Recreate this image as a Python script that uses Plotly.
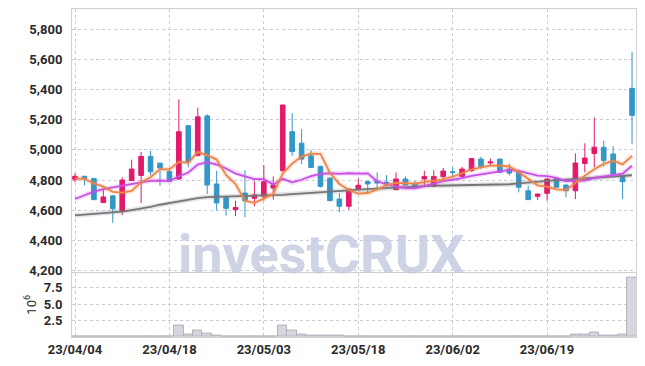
import plotly.graph_objects as go
from plotly.subplots import make_subplots

dates = ["23/04/04","23/04/05","23/04/06","23/04/07","23/04/10","23/04/11","23/04/12","23/04/13","23/04/14","23/04/17",
         "23/04/18","23/04/19","23/04/20","23/04/21","23/04/24","23/04/25","23/04/26","23/04/27","23/04/28","23/05/02",
         "23/05/03","23/05/04","23/05/08","23/05/09","23/05/10","23/05/11","23/05/12","23/05/15","23/05/16","23/05/17",
         "23/05/18","23/05/19","23/05/22","23/05/23","23/05/24","23/05/25","23/05/26","23/05/30","23/05/31","23/06/01",
         "23/06/02","23/06/05","23/06/07","23/06/08","23/06/09","23/06/12","23/06/13","23/06/14","23/06/15","23/06/16",
         "23/06/19","23/06/20","23/06/21","23/06/22","23/06/23","23/06/26","23/06/27","23/06/28","23/06/29","23/06/30"]

opens = [4805,4825,4810,4650,4695,4593,4797,4830,4957,4912,
         4857,4807,5161,4962,5226,4774,4690,4603,4714,4679,
         4692,4747,4862,5121,5045,4961,4891,4813,4674,4626,
         4736,4791,4791,4786,4736,4807,4774,4807,4758,4822,
         4855,4824,4862,4939,4914,4939,4873,4851,4729,4692,
         4712,4811,4767,4729,4910,4977,5018,4973,4822,5409]
highs = [4845,4828,4815,4735,4700,4818,4935,4987,4994,4915,
         4880,5336,5165,5281,5237,4862,4695,4663,4866,4791,
         4899,4824,5300,5244,5138,5000,4895,4815,4714,4742,
         4811,4793,4851,4833,4851,4824,4796,4862,4866,4880,
         4884,4888,4947,4955,4943,4942,4910,4855,4762,4710,
         4810,4815,4770,4977,5044,5216,5061,5024,4825,5652]
lows = [4785,4765,4665,4648,4515,4568,4795,4648,4830,4762,
        4788,4800,4884,4960,4707,4597,4564,4560,4553,4626,
        4663,4670,4855,4961,4906,4880,4750,4660,4586,4603,
        4733,4714,4740,4747,4733,4765,4750,4752,4755,4785,
        4824,4820,4855,4873,4895,4848,4829,4718,4668,4668,
        4663,4750,4685,4674,4851,4884,4891,4835,4674,5040]
closes = [4825,4810,4670,4688,4610,4800,4873,4957,4855,4880,
          4791,5121,4922,5220,4767,4648,4612,4618,4663,4701,
          4789,4767,5298,4989,4939,4884,4758,4663,4626,4740,
          4765,4774,4780,4778,4807,4767,4752,4824,4824,4860,
          4851,4873,4943,4891,4920,4851,4846,4752,4670,4707,
          4807,4752,4729,4913,4946,5018,4929,4840,4789,5230]
volumes_m = [0.02,0.02,0.02,0.02,0.1,0.1,0.1,0.1,0.1,0.03,
             0.03,1.7,0.3,1.0,0.45,0.25,0.1,0.03,0.1,0.03,
             0.1,0.03,1.8,1.05,0.35,0.15,0.15,0.15,0.15,0.1,
             0.03,0.03,0.03,0.03,0.03,0.03,0.03,0.03,0.03,0.03,
             0.03,0.03,0.12,0.03,0.03,0.03,0.03,0.12,0.03,0.03,
             0.03,0.03,0.03,0.3,0.3,0.7,0.25,0.25,0.35,9.0]
ma5 = [4811,4807,4778,4756,4721,4716,4728,4786,4819,4873,
       4871,4921,4914,4987,4964,4936,4834,4773,4662,4648,
       4677,4708,4844,4909,4956,4975,4974,4847,4774,4734,
       4710,4714,4737,4767,4781,4781,4777,4786,4795,4805,
       4822,4846,4870,4884,4896,4896,4890,4852,4808,4765,
       4756,4738,4733,4782,4829,4872,4907,4929,4904,4961]
ma10 = [4674,4701,4723,4740,4752,4762,4774,4785,4795,4797,
        4793,4825,4850,4903,4919,4903,4877,4843,4824,4806,
        4806,4771,4808,4785,4802,4826,4841,4845,4841,4845,
        4843,4844,4792,4771,4758,4746,4745,4761,4781,4793,
        4802,4812,4828,4839,4851,4859,4868,4861,4846,4830,
        4826,4814,4793,4795,4797,4814,4822,4831,4843,4895]
ma_long = [4565,4570,4574,4579,4584,4590,4600,4610,4622,4636,
           4648,4658,4670,4680,4686,4688,4689,4690,4691,4692,
           4694,4697,4702,4707,4712,4716,4720,4724,4728,4732,
           4736,4740,4744,4748,4752,4755,4758,4760,4762,4763,
           4764,4764,4765,4765,4766,4768,4772,4778,4784,4790,
           4795,4799,4802,4806,4810,4814,4818,4822,4826,4832]

price_ticks = [4200,4400,4600,4800,5000,5200,5400,5600,5800]
price_ticktext = ["4,200","4,400","4,600","4,800","5,000","5,200","5,400","5,600","5,800"]
vol_ticks = [2.5,5.0,7.5]
vol_ticktext = ["2.5","5.0","7.5"]
date_tickvals = ["23/04/04","23/04/18","23/05/03","23/05/18","23/06/02","23/06/19"]

UP = "#e3196b"
DOWN = "#3397c8"
GRID = "#c9cbdc"
FONT = "Roboto, sans-serif"

fig = make_subplots(rows=2, cols=1, shared_xaxes=True, row_heights=[0.803, 0.197],
                    vertical_spacing=0.003)

fig.add_trace(go.Candlestick(x=dates, open=opens, high=highs, low=lows, close=closes,
                             increasing=dict(line=dict(color=UP, width=1), fillcolor=UP),
                             decreasing=dict(line=dict(color=DOWN, width=1), fillcolor=DOWN),
                             whiskerwidth=0, showlegend=False, hoverinfo="skip"), row=1, col=1)

for vals, col in [(ma_long, "#767676"), (ma10, "#c94fe6"), (ma5, "#ee8448")]:
    fig.add_trace(go.Scatter(x=dates, y=vals, mode="lines", line=dict(color=col, width=5),
                             opacity=0.18, showlegend=False, hoverinfo="skip"), row=1, col=1)
    fig.add_trace(go.Scatter(x=dates, y=vals, mode="lines", line=dict(color=col, width=1.8),
                             showlegend=False, hoverinfo="skip"), row=1, col=1)

fig.add_trace(go.Bar(x=dates, y=volumes_m, marker=dict(color="#d6d6de", line=dict(color="#b2b2bc", width=1)),
                     showlegend=False, hoverinfo="skip"), row=2, col=1)

fig.update_layout(width=645, height=366, margin=dict(l=72, r=9, t=9, b=29),
                  paper_bgcolor="white", plot_bgcolor="white", bargap=0,
                  font=dict(family=FONT, size=13, color="#2a2a2a", weight="bold"))

xcommon = dict(type="category", range=[-0.32, 59.42], showgrid=True, gridcolor=GRID, griddash="dot",
               gridwidth=1, showline=True, linecolor="#d0d0d0", mirror=True, ticks="",
               tickvals=date_tickvals, ticktext=date_tickvals, rangeslider=dict(visible=False))
fig.update_xaxes(**xcommon, row=1, col=1)
fig.update_xaxes(**xcommon, row=2, col=1)
fig.update_xaxes(showticklabels=False, row=1, col=1)
fig.update_xaxes(showticklabels=True, tickfont=dict(size=13, weight="bold"), row=2, col=1)

fig.update_yaxes(range=[4192, 5936], tickvals=price_ticks, ticktext=price_ticktext, showgrid=True,
                 gridcolor=GRID, griddash="dot", showline=True, linecolor="#d0d0d0", mirror=True,
                 ticks="", zeroline=False, ticklabelstandoff=6, automargin=False, row=1, col=1)
fig.update_yaxes(range=[0, 9.8], tickvals=vol_ticks, ticktext=vol_ticktext, showgrid=True,
                 gridcolor=GRID, griddash="dot", showline=True, linecolor="#d0d0d0", mirror=True,
                 ticks="", zeroline=False, ticklabelstandoff=6, automargin=False,
                 title=dict(text="10<sup>6</sup>", standoff=4, font=dict(size=13, weight="normal")),
                 row=2, col=1)

fig.add_annotation(text="investCRUX", xref="paper", yref="paper", x=0.442, y=0.252,
                   xanchor="center", yanchor="middle", showarrow=False,
                   font=dict(family="Roboto, sans-serif", size=54, color="#c3c9df", weight="bold"),
                   opacity=0.8)

fig.write_html("out.html", config={"displayModeBar": False},
               post_script="document.body.style.margin='0';document.body.style.overflow='hidden';")
